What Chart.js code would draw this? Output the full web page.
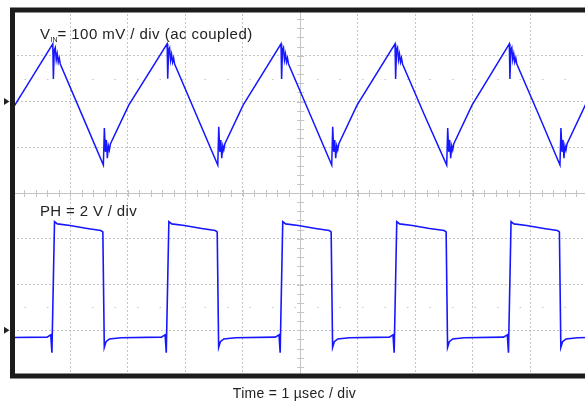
<!DOCTYPE html>
<html>
<head>
<meta charset="utf-8">
<script src="https://cdn.jsdelivr.net/npm/chart.js@4.4.0/dist/chart.umd.min.js"></script>
<style>
  html, body { margin: 0; padding: 0; background: #fff; overflow: hidden; }
  .wrap { position: relative; width: 585px; height: 402px; overflow: hidden; }
  canvas { position: absolute; left: 0; top: 0; }
  .lbl { position: absolute; font-family: 'Liberation Sans', Arial, sans-serif; color: #222; line-height: 1; white-space: nowrap; }
  .lbl sub { font-size: 7px; vertical-align: -3px; letter-spacing: 0; line-height: 1; }
</style>
</head>
<body>
<div class="wrap">
  <canvas id="scope" width="600" height="402"></canvas>
  <div class="lbl" style="left:40px; top:26px; font-size:15px; letter-spacing:0.45px">V<sub>IN</sub>= 100 mV / div (ac coupled)</div>
  <div class="lbl" style="left:40px; top:203px; font-size:15px; letter-spacing:0.35px">PH = 2 V / div</div>
  <div class="lbl" style="left:0; width:589px; text-align:center; top:386px; font-size:14px; letter-spacing:0.3px">Time = 1 µsec / div</div>
</div>

<script>
// ===== Data (time in µs) =====
const timeRange = [0, 10];      // 10 div x 1 µs
const vinRange = [-600, 200];   // 8 div x 100 mV, 0 mV marker 2 div above centre
const phRange = [-2, 14];       // 8 div x 2 V, 0 V marker 3 div below centre

const vinTime = [
  0, 0.35,
  0.700, 0.710, 0.726, 0.743, 0.760, 0.777, 0.795, 0.812, 0.830, 1.200,
  1.579, 1.596, 1.614, 1.631, 1.648, 1.666, 1.683, 1.701, 2.020,
  2.687, 2.697, 2.713, 2.730, 2.747, 2.764, 2.782, 2.799, 2.817, 3.190,
  3.567, 3.584, 3.602, 3.619, 3.636, 3.654, 3.671, 3.689, 4.007,
  4.666, 4.676, 4.692, 4.709, 4.726, 4.743, 4.761, 4.778, 4.796, 5.170,
  5.547, 5.564, 5.582, 5.599, 5.616, 5.634, 5.651, 5.669, 5.987,
  6.647, 6.657, 6.673, 6.690, 6.707, 6.724, 6.742, 6.759, 6.777, 7.160,
  7.545, 7.562, 7.580, 7.597, 7.614, 7.632, 7.649, 7.667, 7.985,
  8.633, 8.643, 8.659, 8.676, 8.693, 8.710, 8.728, 8.745, 8.763, 9.140,
  9.513, 9.530, 9.548, 9.565, 9.582, 9.600, 9.617, 9.635, 9.953, 10.0
];
const vinMv = [
  -16, 55,
  126, 49, 113, 118, 91, 104, 86, 95, 82, -27,
  -139, -58, -110, -84, -124, -97, -106, -93, -8,
  126, 50, 112, 117, 90, 103, 86, 95, 82, -28,
  -139, -55, -110, -84, -124, -97, -106, -93, -8,
  126, 49, 113, 118, 91, 104, 86, 95, 82, -28,
  -139, -55, -110, -84, -124, -97, -106, -93, -8,
  126, 49, 113, 118, 91, 104, 86, 95, 82, -30,
  -139, -58, -110, -84, -124, -97, -106, -93, -8,
  126, 49, 113, 118, 91, 104, 86, 95, 82, -28,
  -139, -58, -110, -84, -124, -97, -106, -93, -8, 2
];

const phTime = [
  0, 0.600, 0.665, 0.685, 0.730, 0.780, 1.000, 1.300, 1.535, 1.570, 1.595, 1.625, 1.685, 1.885,
  2.587, 2.652, 2.672, 2.717, 2.767, 2.987, 3.287, 3.522, 3.557, 3.582, 3.612, 3.672, 3.872,
  4.566, 4.631, 4.651, 4.696, 4.746, 4.966, 5.266, 5.502, 5.537, 5.562, 5.592, 5.652, 5.852,
  6.547, 6.612, 6.632, 6.677, 6.727, 6.947, 7.247, 7.500, 7.535, 7.560, 7.590, 7.650, 7.850,
  8.533, 8.598, 8.618, 8.663, 8.713, 8.933, 9.233, 9.468, 9.503, 9.528, 9.558, 9.618, 9.818, 10.0
];
const phVolts = [
  -0.32, -0.30, -0.20, -0.98, 4.75, 4.65, 4.58, 4.45, 4.36, 4.30, -0.75, -0.50, -0.38, -0.33,
  -0.30, -0.20, -0.98, 4.75, 4.65, 4.58, 4.45, 4.36, 4.30, -0.75, -0.50, -0.38, -0.33,
  -0.30, -0.20, -0.98, 4.75, 4.65, 4.58, 4.45, 4.36, 4.30, -0.75, -0.50, -0.38, -0.33,
  -0.30, -0.20, -0.98, 4.75, 4.65, 4.58, 4.45, 4.36, 4.30, -0.75, -0.50, -0.38, -0.33,
  -0.30, -0.20, -0.98, 4.75, 4.65, 4.58, 4.45, 4.36, 4.30, -0.75, -0.50, -0.38, -0.33, -0.32
];

// ===== Scope decorations =====
const GRID = '#c4c4c4';

const scopePlugin = {
  id: 'scope',
  beforeDatasetsDraw(chart) {
    const { ctx, chartArea: a, scales: { x, y } } = chart;
    const cx = x.getPixelForValue(5);
    const cy = y.getPixelForValue(-200);
    ctx.save();
    ctx.strokeStyle = GRID;
    ctx.lineWidth = 1;

    // centre cross + minor ticks every 0.2 div
    ctx.beginPath();
    ctx.moveTo(Math.round(cx) + 0.5, a.top); ctx.lineTo(Math.round(cx) + 0.5, a.bottom);
    ctx.moveTo(a.left, Math.round(cy) + 0.5); ctx.lineTo(a.right, Math.round(cy) + 0.5);
    for (let t = 0.2; t < 10; t += 0.2) {
      const px = Math.round(x.getPixelForValue(t)) + 0.5;
      ctx.moveTo(px, cy - 3); ctx.lineTo(px, cy + 4);
    }
    for (let v = -580; v < 200; v += 20) {
      const py = Math.round(y.getPixelForValue(v)) + 0.5;
      ctx.moveTo(cx - 3, py); ctx.lineTo(cx + 4, py);
    }
    ctx.stroke();

    // sparse dotted rows at +/- 2.5 div
    ctx.setLineDash([1.5, 21]);
    ctx.beginPath();
    [50, -450].forEach(v => {
      const py = Math.round(y.getPixelForValue(v)) + 0.5;
      ctx.moveTo(a.left + 12, py); ctx.lineTo(a.right, py);
    });
    ctx.stroke();
    ctx.restore();
  },
  afterDraw(chart) {
    const { ctx, chartArea: a, scales: { y, y2 } } = chart;
    ctx.save();
    // thick frame
    ctx.lineWidth = 5;
    ctx.strokeStyle = '#1c1c1c';
    ctx.strokeRect(a.left, a.top, a.right - a.left, a.bottom - a.top);
    // ground markers for each trace
    ctx.fillStyle = '#222';
    [y.getPixelForValue(0), y2.getPixelForValue(0)].forEach(py => {
      ctx.beginPath();
      ctx.moveTo(4, py - 3.5); ctx.lineTo(9.5, py); ctx.lineTo(4, py + 3.5);
      ctx.closePath();
      ctx.fill();
    });
    ctx.restore();
  }
};

// ===== Chart =====
const toPoints = (xs, ys) => xs.map((t, i) => ({ x: t, y: ys[i] }));

const axisGrid = { color: GRID, lineWidth: 1, drawTicks: false };
const axisBorder = { display: false, dash: [2, 2] };

new Chart(document.getElementById('scope'), {
  type: 'line',
  data: {
    datasets: [
      { label: 'VIN', data: toPoints(vinTime, vinMv), yAxisID: 'y',
        borderColor: '#1616ff', borderWidth: 1.5, pointRadius: 0, tension: 0 },
      { label: 'PH', data: toPoints(phTime, phVolts), yAxisID: 'y2',
        borderColor: '#1616ff', borderWidth: 1.6, pointRadius: 0, tension: 0 }
    ]
  },
  options: {
    responsive: false,
    animation: false,
    layout: { padding: { left: 12.5, top: 10, right: 12, bottom: 26 } },
    plugins: { legend: { display: false }, tooltip: { enabled: false } },
    scales: {
      x: { type: 'linear', min: timeRange[0], max: timeRange[1],
           ticks: { stepSize: 1, display: false }, grid: axisGrid, border: axisBorder },
      y: { min: vinRange[0], max: vinRange[1],
           ticks: { stepSize: 100, display: false }, grid: axisGrid, border: axisBorder },
      y2: { display: false, min: phRange[0], max: phRange[1] }
    }
  },
  plugins: [scopePlugin]
});
</script>
</body>
</html>
